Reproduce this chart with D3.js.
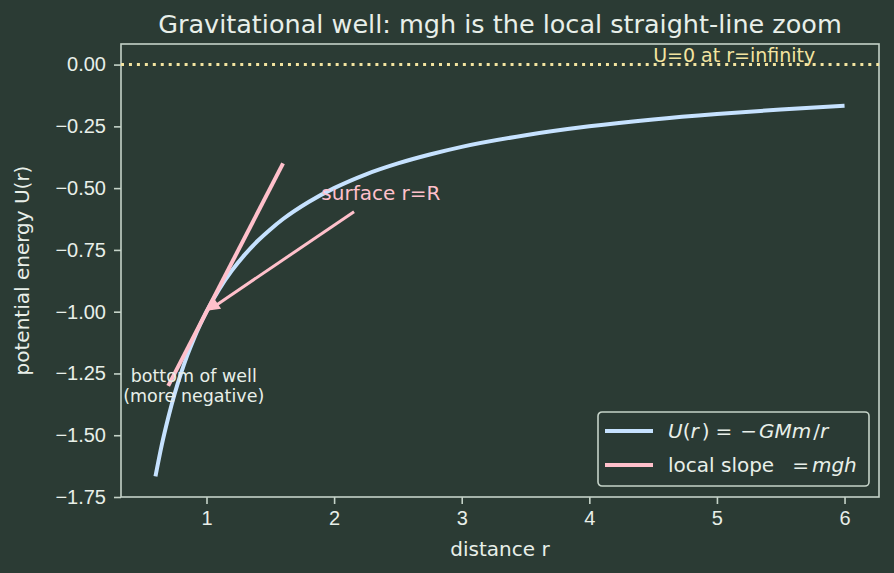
<!DOCTYPE html>
<meta charset="utf-8">
<style>
body { margin: 0; background: #2b3b34; }
svg { display: block; font-family: "DejaVu Sans", sans-serif; }
.axis path, .axis line { stroke: #c5d3c8; stroke-width: 1.6px; }
.axis text { fill: #e8efe9; font-size: 20px; }
</style>
<svg width="894" height="573"></svg>
<script src="https://d3js.org/d3.v7.min.js"></script>
<script>

// potential curve
var rVals = [0.6, 0.65, 0.7, 0.75, 0.8, 0.85, 0.9, 0.95, 1.0, 1.1, 1.2, 1.3, 1.4, 1.5, 1.6, 1.8, 2.0, 2.25, 2.5, 2.75, 3.0, 3.5, 4.0, 4.5, 5.0, 5.5, 6.0];
var uVals = [-1.667, -1.538, -1.429, -1.333, -1.25, -1.176, -1.111, -1.053, -1.0, -0.909, -0.833, -0.769, -0.714, -0.667, -0.625, -0.556, -0.5, -0.444, -0.4, -0.364, -0.333, -0.286, -0.25, -0.222, -0.2, -0.182, -0.167];

// tangent line at r=R
var slopeR = [0.7, 1.6];
var slopeU = [-1.3, -0.4];

var xTicks = [1, 2, 3, 4, 5, 6];
var yTicks = [0, -0.25, -0.5, -0.75, -1.0, -1.25, -1.5, -1.75];

// annotations: [x, y] in data units
var zeroNote = {text: "U=0 at r=infinity", at: [4.5, 0.0]};
var surfNote = {text: "surface r=R", at: [1.9, -0.55], target: [1.0, -1.0]};
var wellNote = {lines: ["bottom of well", "(more negative)"], at: [0.9, -1.3]};

var bg = "#2b3b34", fg = "#e8efe9", spine = "#c5d3c8";
var blue = "#c6e2ff", pink = "#ffc0cb", khaki = "#f3e4a0";

var svg = d3.select("svg"),
    margin = {top: 44, right: 15, bottom: 76, left: 121},
    width = +svg.attr("width") - margin.left - margin.right,
    height = +svg.attr("height") - margin.top - margin.bottom;

svg.append("rect").attr("width", 894).attr("height", 573).attr("fill", bg);

var x = d3.scaleLinear().domain([0.33, 6.27]).range([0, width]);
var y = d3.scaleLinear().domain([-1.75, 0.0833]).range([height, 0]);

var g = svg.append("g").attr("transform", "translate(" + margin.left + "," + margin.top + ")");

var fmt = function(d) { return d3.format(".2f")(d).replace("-", "\u2212"); };

g.append("g").attr("class", "axis")
  .attr("transform", "translate(0," + height + ")")
  .call(d3.axisBottom(x).tickValues(xTicks).tickSize(7).tickPadding(7).tickFormat(d3.format("d")))
  .call(function(a) { a.select(".domain").remove(); });

g.append("g").attr("class", "axis")
  .call(d3.axisLeft(y).tickValues(yTicks).tickSize(7).tickPadding(8).tickFormat(fmt))
  .call(function(a) { a.select(".domain").remove(); });

// frame
g.append("rect")
  .attr("width", width).attr("height", height)
  .attr("fill", "none").attr("stroke", spine).attr("stroke-width", 1.6);

// U = 0 reference
g.append("line")
  .attr("x1", 0).attr("x2", width)
  .attr("y1", y(0)).attr("y2", y(0))
  .attr("stroke", khaki).attr("stroke-width", 3)
  .attr("stroke-dasharray", "3,4.95");

g.append("text")
  .attr("x", x(zeroNote.at[0])).attr("y", y(zeroNote.at[1]) - 3)
  .attr("fill", khaki).style("font-size", "19px")
  .text(zeroNote.text);

var line = d3.line().x(function(d) { return x(d[0]); }).y(function(d) { return y(d[1]); });

g.append("path")
  .datum(d3.zip(rVals, uVals))
  .attr("d", line.curve(d3.curveMonotoneX))
  .attr("fill", "none").attr("stroke", blue).attr("stroke-width", 4);

g.append("path")
  .datum(d3.zip(slopeR, slopeU))
  .attr("d", d3.line().x(function(d) { return x(d[0]); }).y(function(d) { return y(d[1]); }))
  .attr("fill", "none").attr("stroke", pink).attr("stroke-width", 4);

// surface annotation with arrow
var st = g.append("text")
  .attr("x", x(surfNote.at[0])).attr("y", y(surfNote.at[1]))
  .attr("fill", pink).style("font-size", "20px")
  .text(surfNote.text);
var bb = st.node().getBBox();
var cx = bb.x + bb.width / 2, cy = bb.y + bb.height / 2;
var tx = x(surfNote.target[0]), ty = y(surfNote.target[1]);
var dx = tx - cx, dy = ty - cy, len = Math.sqrt(dx * dx + dy * dy);
var ux = dx / len, uy = dy / len;
// leave the text box along the line
var tExit = Math.min((bb.height / 2 + 4) / Math.abs(uy), (bb.width / 2 + 4) / Math.abs(ux)) + 4;
var sx = cx + ux * tExit, sy = cy + uy * tExit;
var ex = tx - ux * 4, ey = ty - uy * 4;
var hl = 9, hw = 4.5;
g.append("line")
  .attr("x1", sx).attr("y1", sy)
  .attr("x2", ex - ux * hl * 0.8).attr("y2", ey - uy * hl * 0.8)
  .attr("stroke", pink).attr("stroke-width", 3);
g.append("path")
  .attr("d", "M" + ex + "," + ey +
       "L" + (ex - ux * hl - uy * hw) + "," + (ey - uy * hl + ux * hw) +
       "L" + (ex - ux * hl + uy * hw) + "," + (ey - uy * hl - ux * hw) + "Z")
  .attr("fill", pink).attr("stroke", pink).attr("stroke-width", 1.5);

// bottom of well note
var wt = g.append("text")
  .attr("x", x(wellNote.at[0])).attr("y", y(wellNote.at[1]))
  .attr("text-anchor", "middle").attr("fill", fg).style("font-size", "17.5px");
wt.selectAll("tspan").data(wellNote.lines).enter().append("tspan")
  .attr("x", x(wellNote.at[0]))
  .attr("dy", function(d, i) { return i == 0 ? "-0.2em" : "1.15em"; })
  .text(function(d) { return d; });

// title and axis labels
svg.append("text")
  .attr("x", margin.left + width / 2).attr("y", 33)
  .attr("text-anchor", "middle").attr("fill", fg).style("font-size", "25.5px")
  .text("Gravitational well: mgh is the local straight-line zoom");

svg.append("text")
  .attr("x", margin.left + width / 2).attr("y", 556)
  .attr("text-anchor", "middle").attr("fill", fg).style("font-size", "20px")
  .text("distance r");

svg.append("text")
  .attr("transform", "translate(29," + (margin.top + height / 2) + ") rotate(-90)")
  .attr("text-anchor", "middle").attr("fill", fg).style("font-size", "20px")
  .text("potential energy U(r)");

// legend
var lg = svg.append("g").attr("transform", "translate(598,412)");
lg.append("rect")
  .attr("width", 271).attr("height", 74).attr("rx", 4)
  .attr("fill", bg).attr("fill-opacity", 0.8)
  .attr("stroke", spine).attr("stroke-width", 1.6);

// [text, italic, dx]
var legendItems = [
  {color: blue, parts: [["U", 1, 0], ["(", 0, 0], ["r", 1, 0], [")", 0, 3], ["=", 0, 6], ["\u2212", 0, 8], ["GMm", 1, 2], ["/", 0, 2], ["r", 1, 0]]},
  {color: pink, parts: [["local slope", 0, 0], ["=", 0, 18], ["mgh", 1, 3]]}
];
var rows = lg.selectAll(".row").data(legendItems).enter().append("g")
  .attr("transform", function(d, i) { return "translate(0," + (19 + i * 34) + ")"; });
rows.append("line")
  .attr("x1", 7).attr("x2", 55)
  .attr("stroke", function(d) { return d.color; }).attr("stroke-width", 4);
var rt = rows.append("text")
  .attr("x", 70).attr("y", 7).attr("fill", fg).style("font-size", "20px");
rt.selectAll("tspan").data(function(d) { return d.parts; }).enter().append("tspan")
  .attr("dx", function(p) { return p[2]; })
  .style("font-style", function(p) { return p[1] ? "italic" : "normal"; })
  .text(function(p) { return p[0]; });

</script>
